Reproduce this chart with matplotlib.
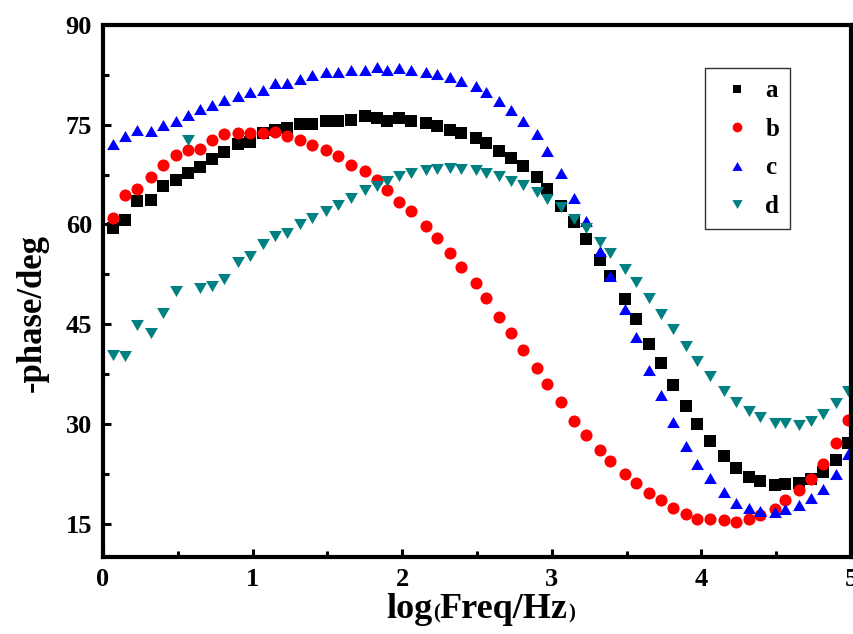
import numpy as np
import matplotlib

matplotlib.use("Agg")
import matplotlib.pyplot as plt
from matplotlib.offsetbox import TextArea, HPacker, AnchoredOffsetbox

plt.rcParams["font.family"] = ["Liberation Serif", "DejaVu Serif"]
plt.rcParams["font.weight"] = "bold"

# log10 of measurement frequency (shared by all four samples)
log_freq = [0.07, 0.15, 0.23, 0.32, 0.40, 0.49, 0.57, 0.65, 0.73, 0.81,
            0.90, 0.98, 1.07, 1.15, 1.23, 1.32, 1.40, 1.49, 1.57, 1.66,
            1.75, 1.83, 1.90, 1.98, 2.06, 2.16, 2.23, 2.32, 2.39, 2.49,
            2.56, 2.65, 2.73, 2.81, 2.90, 2.97, 3.06, 3.15, 3.23, 3.32,
            3.39, 3.49, 3.56, 3.65, 3.73, 3.81, 3.90, 3.97, 4.06, 4.15,
            4.23, 4.32, 4.39, 4.49, 4.56, 4.65, 4.73, 4.81, 4.90, 4.98]

# -phase (deg) for each sample
phase_a = [59.4, 60.6, 63.6, 63.7, 65.85, 66.75, 67.75, 68.7, 69.9, 70.9,
           72.05, 72.4, 73.7, 74.2, 74.55, 75.15, 75.15, 75.5, 75.6, 75.75,
           76.25, 76.0, 75.6, 76.0, 75.5, 75.2, 74.75, 74.25, 73.75, 73.0,
           72.2, 71.05, 69.95, 68.75, 67.1, 65.4, 62.8, 60.3, 57.75, 54.65,
           52.2, 48.8, 45.85, 42.1, 39.1, 35.9, 32.65, 30.0, 27.5, 25.25,
           23.35, 22.1, 21.35, 20.85, 21.0, 21.1, 21.75, 22.75, 24.65, 27.15]

phase_b = [61.0, 64.45, 65.4, 67.15, 69.0, 70.5, 71.15, 71.3, 72.7, 73.6,
           73.7, 73.7, 73.75, 73.95, 73.25, 72.75, 72.0, 71.25, 70.25, 69.0,
           68.05, 66.75, 65.25, 63.4, 62.0, 59.75, 57.9, 55.75, 53.65, 51.25,
           48.9, 46.15, 43.75, 41.1, 38.35, 36.0, 33.25, 30.4, 28.35, 26.15,
           24.4, 22.5, 21.15, 19.65, 18.5, 17.35, 16.4, 15.75, 15.65, 15.5,
           15.25, 15.75, 16.25, 17.25, 18.6, 20.0, 21.75, 24.0, 27.15, 30.65]

phase_c = [72.15, 73.25, 74.25, 74.0, 75.0, 75.5, 76.5, 77.35, 78.0, 78.65,
           79.25, 79.9, 80.25, 81.35, 81.25, 81.85, 82.5, 83.0, 83.0, 83.25,
           83.25, 83.75, 83.25, 83.5, 83.25, 83.0, 82.65, 82.15, 81.65, 80.85,
           79.85, 78.6, 77.15, 75.5, 73.55, 71.1, 67.8, 64.0, 60.5, 56.0,
           52.25, 47.35, 43.15, 38.15, 34.3, 30.35, 26.75, 24.0, 21.85, 19.75,
           18.15, 17.35, 16.85, 16.75, 17.25, 17.75, 18.85, 20.25, 22.5, 25.5]

phase_d = [40.35, 40.15, 44.85, 43.75, 46.75, 50.05, 72.75, 50.45, 50.75, 51.85,
           54.3, 55.2, 57.0, 58.2, 58.7, 60.1, 61.0, 62.0, 63.0, 64.0,
           65.15, 65.75, 66.5, 67.25, 67.75, 68.25, 68.35, 68.5, 68.35, 68.15,
           67.75, 67.25, 66.6, 65.9, 64.95, 63.85, 62.65, 60.8, 59.4, 57.35,
           55.65, 53.35, 51.4, 48.9, 46.6, 44.3, 41.75, 39.5, 37.25, 35.0,
           33.25, 31.9, 31.0, 30.15, 30.15, 29.9, 30.5, 31.5, 33.1, 35.0]

labels = ["a", "b", "c", "d"]
colors = ["#000000", "#ff0000", "#0000ff", "#008080"]

# equilateral triangles (the built-in ^ / v are as tall as they are wide)
tri_up = [(-1, -0.866), (1, -0.866), (0, 0.866)]
tri_down = [(-1, 0.866), (1, 0.866), (0, -0.866)]
markers = ["s", "o", tri_up, tri_down]
sizes = [8, 8.7, 9.2, 9.2]

fig = plt.figure(figsize=(8.54, 6.34), dpi=100)
ax = fig.add_axes([0.1206, 0.1215, 0.8759, 0.8391])

for y, lab, col, mk, ms in zip([phase_a, phase_b, phase_c, phase_d],
                               labels, colors, markers, sizes):
    ax.plot(log_freq, y, linestyle="none", marker=mk, markersize=ms,
            color=col, markeredgewidth=0, label=lab)

ax.set_xlim(0, 5)
ax.set_ylim(10, 90)
ax.set_xticks([0, 1, 2, 3, 4, 5])
ax.set_xticks([0.5, 1.5, 2.5, 3.5, 4.5], minor=True)
ax.set_yticks([15, 30, 45, 60, 75, 90])
ax.set_yticks([22.5, 37.5, 52.5, 67.5, 82.5], minor=True)

for sp in ax.spines.values():
    sp.set_linewidth(3)
ax.tick_params(which="both", direction="in", width=2.2, top=False, right=False)
ax.tick_params(which="major", length=6, labelsize=19, pad=8)
ax.tick_params(which="minor", length=4)
for t in ax.get_xticklabels() + ax.get_yticklabels():
    t.set_fontweight("bold")

ax.set_ylabel("-phase/deg", fontsize=25, fontweight="bold")
ax.yaxis.set_label_coords(-0.073, 0.458)

# x label with small parentheses
big = dict(fontsize=26, fontweight="bold")
small = dict(fontsize=15, fontweight="bold")
parts = [TextArea("log", textprops=big), TextArea("(", textprops=small),
         TextArea("Freq/Hz", textprops=big), TextArea(")", textprops=small)]
xlab = HPacker(children=parts, align="baseline", pad=0, sep=0)
ax.add_artist(AnchoredOffsetbox(loc="upper center", child=xlab, pad=0,
                                borderpad=0, frameon=False,
                                bbox_to_anchor=(0.505, -0.068),
                                bbox_transform=ax.transAxes))

leg = ax.legend(loc="upper right", bbox_to_anchor=(0.919, 0.919),
                prop={"size": 18, "weight": "bold"}, frameon=True,
                fancybox=False, edgecolor="#333333", framealpha=1,
                handlelength=1.6, handletextpad=0.35, borderpad=0.45,
                labelspacing=0.62, borderaxespad=0, markerscale=0.8)
leg.get_frame().set_linewidth(1.0)

fig.savefig("out.png", dpi=100)
